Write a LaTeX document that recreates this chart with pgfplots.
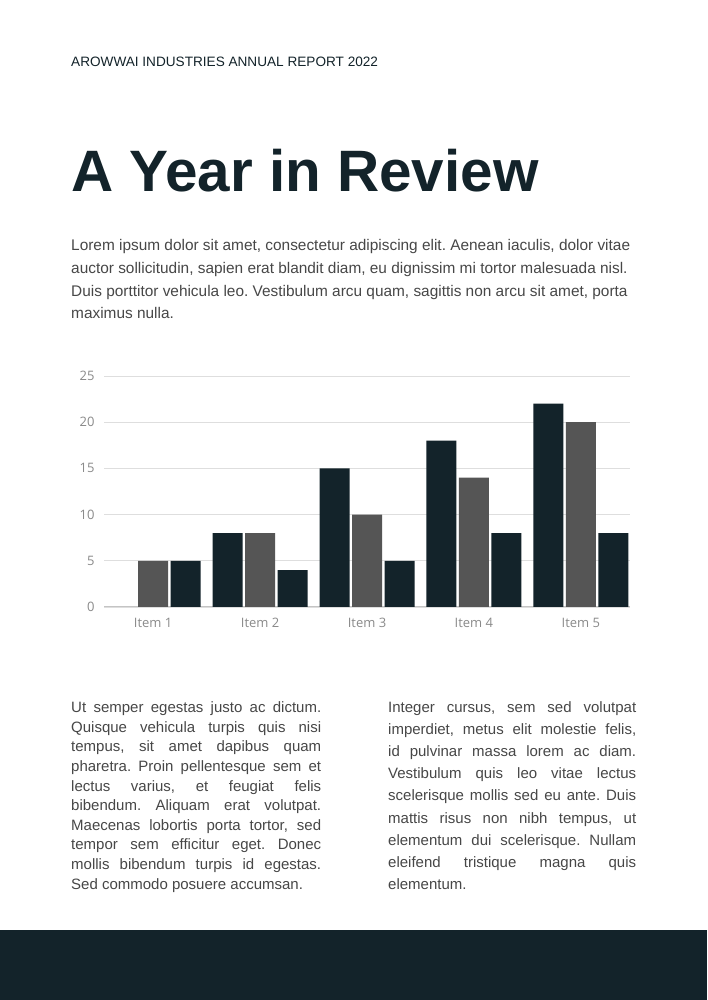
\documentclass[border=0pt]{standalone}
\usepackage{pgfplots}
\pgfplotsset{compat=1.18}
\usepackage{fontspec}
\setmainfont{Liberation Sans}
\newfontfamily\tickfont{Open Sans}
\definecolor{darkbar}{HTML}{13232A}
\definecolor{graybar}{HTML}{555555}
\definecolor{gridc}{HTML}{DEDEDE}
\definecolor{axisc}{HTML}{C4C4C4}
\definecolor{tickc}{HTML}{8A8A8A}
\definecolor{bodyc}{HTML}{474747}
\definecolor{titlec}{HTML}{13232A}
\newcommand{\jl}[1]{\makebox[250pt][s]{#1}}
\newcommand{\jr}[1]{\makebox[248pt][s]{#1}}
\frenchspacing
\begin{document}
\begin{tikzpicture}[x=1pt,y=1pt]
\fill[white] (0,0) rectangle (707,1000);
\fill[darkbar] (0,0) rectangle (707,70);
% header
\node[anchor=base west, inner sep=0, text=titlec, font=\fontsize{13.6}{13.6}\selectfont] at (71,933.3) {AROWWAI INDUSTRIES ANNUAL REPORT 2022};
\node[anchor=base west, inner sep=0, text=titlec, font=\fontsize{58.4}{58}\selectfont\bfseries] at (71,808.3) {A Year in Review};
% intro paragraph
\begin{scope}[every node/.style={anchor=base west, inner sep=0, text=bodyc, font=\fontsize{15.4}{15}\selectfont}]
\node at (71,749) {Lorem ipsum dolor sit amet, consectetur adipiscing elit. Aenean iaculis, dolor vitae};
\node at (71,726.3) {auctor sollicitudin, sapien erat blandit diam, eu dignissim mi tortor malesuada nisl.};
\node at (71,703.6) {Duis porttitor vehicula leo. Vestibulum arcu quam, sagittis non arcu sit amet, porta};
\node at (71,681) {maximus nulla.};
\end{scope}
% columns
\begin{scope}[every node/.style={anchor=base west, inner sep=0, text=bodyc, font=\fontsize{15}{15}\selectfont}]
\node at (71,287.3) {\jl{Ut semper egestas justo ac dictum.}};
\node at (71,267.7) {\jl{Quisque vehicula turpis quis nisi}};
\node at (71,248.1) {\jl{tempus, sit amet dapibus quam}};
\node at (71,228.5) {\jl{pharetra. Proin pellentesque sem et}};
\node at (71,208.9) {\jl{lectus varius, et feugiat felis}};
\node at (71,189.3) {\jl{bibendum. Aliquam erat volutpat.}};
\node at (71,169.7) {\jl{Maecenas lobortis porta tortor, sed}};
\node at (71,150.1) {\jl{tempor sem efficitur eget. Donec}};
\node at (71,130.5) {\jl{mollis bibendum turpis id egestas.}};
\node at (71,110.9) {Sed commodo posuere accumsan.};
\node at (388,287.3) {\jr{Integer cursus, sem sed volutpat}};
\node at (388,265.2) {\jr{imperdiet, metus elit molestie felis,}};
\node at (388,243.1) {\jr{id pulvinar massa lorem ac diam.}};
\node at (388,221.1) {\jr{Vestibulum quis leo vitae lectus}};
\node at (388,199.0) {\jr{scelerisque mollis sed eu ante. Duis}};
\node at (388,176.9) {\jr{mattis risus non nibh tempus, ut}};
\node at (388,154.8) {\jr{elementum dui scelerisque. Nullam}};
\node at (388,132.7) {\jr{eleifend tristique magna quis}};
\node at (388,110.7) {elementum.};
\end{scope}
% chart
\begin{axis}[
  at={(104pt,393pt)}, anchor=south west,
  scale only axis, width=526pt, height=231pt,
  xmin=-0.46, xmax=4.46, ymin=0, ymax=25,
  ybar=2.5pt, bar width=30pt,
  xtick={0,1,2,3,4}, xticklabels={Item 1,Item 2,Item 3,Item 4,Item 5},
  ytick={0,5,10,15,20,25},
  ymajorgrids, grid style={gridc, line width=0.8pt},
  major tick length=0pt,
  axis lines*=left,
  x axis line style={-, draw=axisc, line width=1pt},
  y axis line style={draw=none},
  tick label style={font=\tickfont\fontsize{13}{13}\selectfont, text=tickc},
  /pgf/number format/assume math mode=true,
  yticklabel style={xshift=-6pt},
  xticklabel style={yshift=-8pt},
]
\addplot[fill=darkbar, draw=none] coordinates {(1,8) (2,15) (3,18) (4,22)};
\addplot[fill=graybar, draw=none] coordinates {(0,5) (1,8) (2,10) (3,14) (4,20)};
\addplot[fill=darkbar, draw=none] coordinates {(0,5) (1,4) (2,5) (3,8) (4,8)};
\end{axis}
\end{tikzpicture}
\end{document}
